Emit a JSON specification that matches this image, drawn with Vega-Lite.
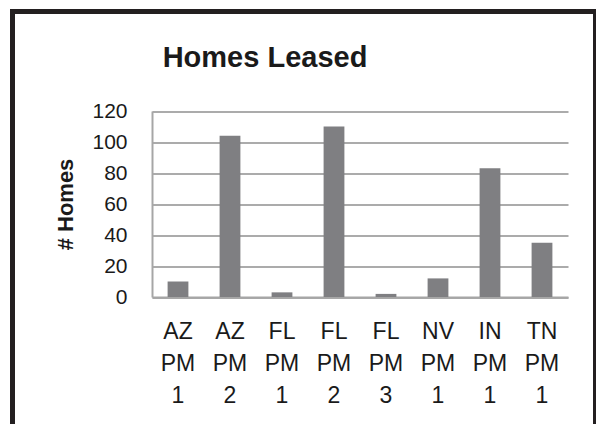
{
  "$schema": "https://vega.github.io/schema/vega-lite/v6.json",
  "width": 583,
  "height": 420,
  "autosize": {"type": "none"},
  "padding": {"left": 12.5, "top": 11.5, "right": 0, "bottom": 0},
  "background": "white",
  "title": {
    "text": "Homes Leased",
    "font": "Liberation Sans",
    "fontSize": 29,
    "fontWeight": "bold",
    "color": "#1a1a1a",
    "anchor": "middle",
    "frame": "group",
    "baseline": "alphabetic",
    "offset": 0,
    "dx": -39,
    "dy": 84
  },
  "data": {
    "values": [
      {"unit": "AZ PM 1", "homes": 10},
      {"unit": "AZ PM 2", "homes": 104},
      {"unit": "FL PM 1", "homes": 3},
      {"unit": "FL PM 2", "homes": 110},
      {"unit": "FL PM 3", "homes": 2},
      {"unit": "NV PM 1", "homes": 12},
      {"unit": "IN PM 1", "homes": 83},
      {"unit": "TN PM 1", "homes": 35}
    ]
  },
  "mark": {"type": "bar", "color": "#7f7f82"},
  "encoding": {
    "x": {
      "field": "unit",
      "type": "nominal",
      "sort": null,
      "scale": {"range": [139.5, 555.5], "paddingInner": 0.6, "paddingOuter": 0.3},
      "axis": {
        "title": null,
        "offset": -134.5,
        "labelExpr": "split(datum.label, ' ')",
        "labelAngle": 0,
        "labelBaseline": "top",
        "labelLineHeight": 32,
        "labelPadding": 23,
        "ticks": false,
        "tickSize": 0,
        "domainColor": "#a6a6a6",
        "domainWidth": 2,
        "labelFont": "Liberation Sans",
        "labelFontSize": 23,
        "labelColor": "#1a1a1a",
        "grid": false
      }
    },
    "y": {
      "field": "homes",
      "type": "quantitative",
      "scale": {"domain": [0, 120], "range": [285.5, 99.5], "nice": false},
      "axis": {
        "title": "# Homes",
        "titleFont": "Liberation Sans",
        "titleFontSize": 22,
        "titleFontWeight": "bold",
        "titleColor": "#1a1a1a",
        "titlePadding": 14,
        "values": [0, 20, 40, 60, 80, 100, 120],
        "offset": -139.5,
        "ticks": false,
        "tickSize": 0,
        "labelPadding": 25,
        "labelFlush": false,
        "labelOverlap": false,
        "labelFont": "Liberation Sans",
        "labelFontSize": 21,
        "labelColor": "#1a1a1a",
        "domainColor": "#a6a6a6",
        "domainWidth": 2,
        "grid": true,
        "gridColor": "#ababab",
        "gridWidth": 2
      }
    }
  },
  "config": {"view": {"stroke": "#231f20", "strokeWidth": 5}}
}
